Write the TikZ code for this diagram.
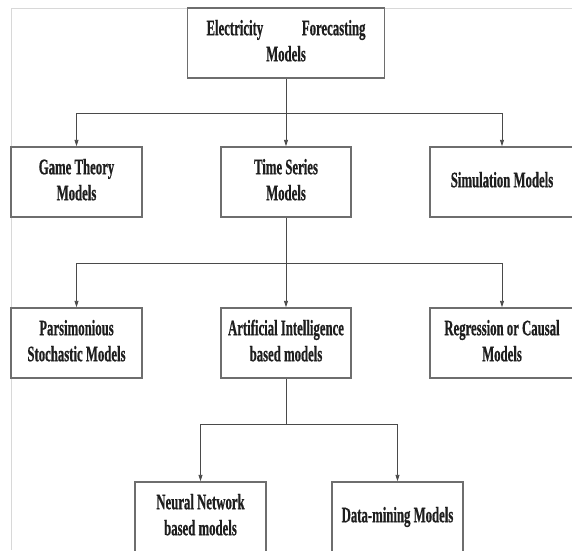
\documentclass[tikz,border=0pt]{standalone}
\usepackage{fontspec}
\setmainfont[BoldFeatures={FakeBold=0.8}]{Liberation Serif}
\usepackage{graphicx}
\usetikzlibrary{arrows.meta}
\definecolor{boxline}{HTML}{6E6E6E}
\definecolor{connline}{HTML}{4A4A4A}
\definecolor{frameline}{HTML}{D8D8D8}
\definecolor{txt}{HTML}{1E1E1E}
\newcommand{\lbl}[1]{\scalebox{0.58}[1]{\begin{tabular}{@{}c@{}}#1\end{tabular}}}
\tikzset{
  box/.style={draw=boxline, line width=1.4pt, rectangle, inner sep=0pt,
    text=txt, font=\fontsize{22}{26}\selectfont\bfseries, align=center},
  conn/.style={draw=connline, line width=0.9pt},
  arr/.style={conn, -{Triangle[length=6.5pt,width=4pt]}}
}
\begin{document}
\begin{tikzpicture}[x=1pt,y=-1pt]
\useasboundingbox (0,0) rectangle (572,550);
\fill[white] (0,0) rectangle (572,550);
\clip (0,0) rectangle (572,550);
% faint page frame
\draw[frameline, line width=0.8pt] (572,8) -- (11,8) -- (11,550);
% nodes
\node[box, minimum width=197pt, minimum height=70pt] (top) at (286,43)
  {\lbl{\makebox[274pt]{Electricity\hfill Forecasting}\\Models}};
\node[box, minimum width=131pt, minimum height=70pt] (gt) at (76.5,182) {\lbl{Game Theory\\Models}};
\node[box, minimum width=130pt, minimum height=70pt] (ts) at (286,182) {\lbl{Time Series\\Models}};
\node[box, minimum width=144pt, minimum height=70pt] (sim) at (502,182) {\lbl{Simulation Models}};
\node[box, minimum width=131pt, minimum height=70pt] (pm) at (76.5,343) {\lbl{Parsimonious\\Stochastic Models}};
\node[box, minimum width=130pt, minimum height=70pt] (ai) at (286,343) {\lbl{Artificial Intelligence\\based models}};
\node[box, minimum width=144pt, minimum height=70pt] (rc) at (502,343) {\lbl{Regression or Causal\\Models}};
\node[box, minimum width=131pt, minimum height=70pt] (nn) at (200.5,517) {\lbl{Neural Network\\based models}};
\node[box, minimum width=131pt, minimum height=70pt] (dm) at (397.5,517) {\lbl{Data-mining Models}};
% junctions
\coordinate (j1) at (286,113);
\coordinate (j2) at (286,263);
\coordinate (j3) at (286,424);
% connectors
\draw[conn] (top.south) -- (j1);
\draw[arr] (j1) -| (gt.north);
\draw[arr] (j1) -- (ts.north);
\draw[arr] (j1) -| (sim.north);
\draw[conn] (ts.south) -- (j2);
\draw[arr] (j2) -| (pm.north);
\draw[arr] (j2) -- (ai.north);
\draw[arr] (j2) -| (rc.north);
\draw[conn] (ai.south) -- (j3);
\draw[arr] (j3) -| (nn.north);
\draw[arr] (j3) -| (dm.north);
\end{tikzpicture}
\end{document}
